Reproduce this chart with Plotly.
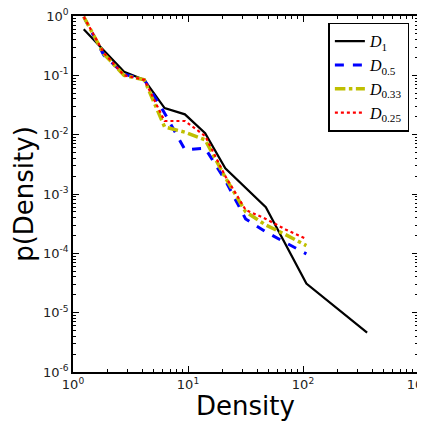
import plotly.graph_objects as go

# Data (log-log)
x_d1 = [1.24, 1.85, 2.78, 4.17, 6.26, 9.4, 14.1, 21.1, 47.5, 107, 361]
y_d1 = [0.60, 0.265, 0.115, 0.084, 0.028, 0.022, 0.0106, 0.0027, 6.0e-4, 3.1e-5, 4.6e-6]

x_col = [1.24, 1.85, 2.78, 4.17, 6.26, 9.4, 14.1, 21.1, 31.7, 47.5, 71.2, 107]
y_d05 = [0.97, 0.22, 0.105, 0.084, 0.023, 0.0056, 0.0059, 0.0017, 3.8e-4, 2.3e-4, 1.5e-4, 9.8e-5]
y_d033 = [0.97, 0.23, 0.10, 0.084, 0.0135, 0.011, 0.0082, 0.0019, 5.0e-4, 3.0e-4, 2.05e-4, 1.35e-4]
y_d025 = [0.97, 0.24, 0.10, 0.084, 0.017, 0.017, 0.0095, 0.002, 5.4e-4, 3.8e-4, 2.5e-4, 1.75e-4]

x_tickvals = [1, 10, 100, 1000]
x_ticktext = ["10<sup>0</sup>", "10<sup>1</sup>", "10<sup>2</sup>", "10<sup>3</sup>"]
y_tickvals = [1e-6, 1e-5, 1e-4, 1e-3, 1e-2, 1e-1, 1]
y_ticktext = ["10<sup>-6</sup>", "10<sup>-5</sup>", "10<sup>-4</sup>", "10<sup>-3</sup>",
              "10<sup>-2</sup>", "10<sup>-1</sup>", "10<sup>0</sup>"]

fig = go.Figure()
fig.add_trace(go.Scatter(x=x_d1, y=y_d1, mode="lines", name="<i>D</i><sub>1</sub>",
                         line=dict(color="#000000", width=2.2)))
fig.add_trace(go.Scatter(x=x_col, y=y_d05, mode="lines", name="<i>D</i><sub>0.5</sub>",
                         line=dict(color="#0000ff", width=3, dash="dash")))
fig.add_trace(go.Scatter(x=x_col, y=y_d033, mode="lines", name="<i>D</i><sub>0.33</sub>",
                         line=dict(color="#bfbf00", width=3.5, dash="dashdot")))
fig.add_trace(go.Scatter(x=x_col, y=y_d025, mode="lines", name="<i>D</i><sub>0.25</sub>",
                         line=dict(color="#ff0000", width=2.2, dash="dot")))

axis_common = dict(
    showgrid=False, zeroline=False, showline=True, linecolor="black", linewidth=1.5,
    mirror="allticks", ticks="inside", ticklen=6, tickwidth=1, tickcolor="black",
    tickfont=dict(family="DejaVu Sans", size=13, color="#222222"),
    minor=dict(ticks="inside", ticklen=3, tickwidth=0.8, tickcolor="black", dtick="D1", showgrid=False),
    automargin=False, ticklabeloverflow="allow",
)

fig.update_xaxes(type="log", range=[0, 3], tickvals=x_tickvals, ticktext=x_ticktext,
                 title=dict(text="Density", font=dict(family="DejaVu Sans", size=26, color="black"),
                            standoff=2),
                 **axis_common)
fig.update_yaxes(type="log", range=[-6, 0], tickvals=y_tickvals, ticktext=y_ticktext,
                 title=dict(text="p(Density)", font=dict(family="DejaVu Sans", size=26, color="black"),
                            standoff=2),
                 **axis_common)

fig.update_layout(
    width=417, height=413,
    margin=dict(l=65, r=7, t=8, b=49, autoexpand=False),
    paper_bgcolor="white", plot_bgcolor="white",
    showlegend=True,
    legend=dict(x=0.975, y=0.981, xanchor="right", yanchor="top",
                bordercolor="black", borderwidth=1.5, bgcolor="white",
                font=dict(family="Liberation Serif", size=16, color="black"),
                tracegroupgap=0, itemwidth=30),
)

fig.write_html("out.html")
